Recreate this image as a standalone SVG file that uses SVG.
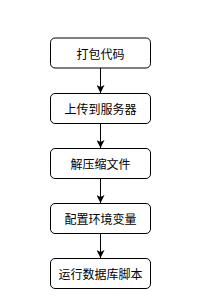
<svg xmlns="http://www.w3.org/2000/svg" width="208" height="308" viewBox="0 0 208 308">
<defs>
<marker id="arr" markerWidth="8" markerHeight="8" refX="8" refY="4" orient="auto" markerUnits="userSpaceOnUse">
<path d="M0,0 L8,4 L0,8 L2,4 Z" fill="#000"/>
</marker>
<style>
.box{fill:#fff;stroke:#000;stroke-width:1}
.lbl{font-family:"Noto Sans CJK SC","Liberation Sans",sans-serif;font-size:12px;fill:#000;text-anchor:middle;dominant-baseline:central}
.edge{stroke:#000;stroke-width:1;fill:none}
</style>
</defs>
<rect width="208" height="308" fill="#fff"/>
<g id="connectors">
<path class="edge" d="M100.5,68 L100.5,93" marker-end="url(#arr)"/>
<path class="edge" d="M100.5,123 L100.5,148" marker-end="url(#arr)"/>
<path class="edge" d="M100.5,178 L100.5,203" marker-end="url(#arr)"/>
<path class="edge" d="M100.5,233 L100.5,258" marker-end="url(#arr)"/>
</g>
<g id="n1"><rect class="box" x="50.5" y="38" width="100" height="30" rx="4.5"/><text class="lbl" x="100.5" y="53">打包代码</text></g>
<g id="n2"><rect class="box" x="50.5" y="93.5" width="100" height="30" rx="4.5"/><text class="lbl" x="100.5" y="108.5">上传到服务器</text></g>
<g id="n3"><rect class="box" x="50.5" y="148.5" width="100" height="30" rx="4.5"/><text class="lbl" x="100.5" y="163.5">解压缩文件</text></g>
<g id="n4"><rect class="box" x="50.5" y="203.5" width="100" height="30" rx="4.5"/><text class="lbl" x="100.5" y="218.5">配置环境变量</text></g>
<g id="n5"><rect class="box" x="50.5" y="258.5" width="100" height="30" rx="4.5"/><text class="lbl" x="100.5" y="273.5">运行数据库脚本</text></g>
</svg>
